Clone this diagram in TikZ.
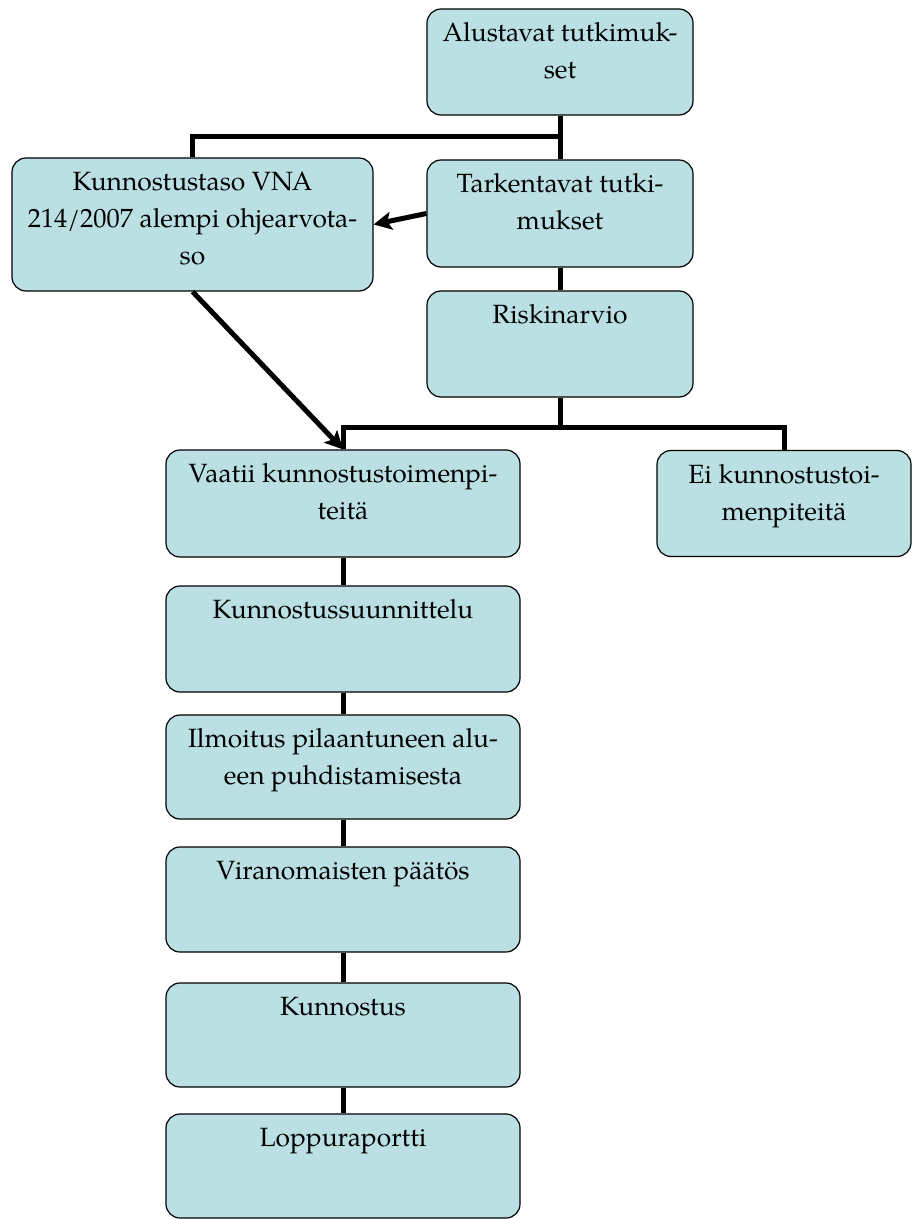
\documentclass[tikz,border=0pt]{standalone}
\usepackage{fontspec}
\setmainfont{texgyrepagella-regular.otf}
\usetikzlibrary{arrows.meta}
\definecolor{boxfill}{RGB}{186,224,227}
\tikzset{
	stage/.style={draw,fill=boxfill,rounded corners=7pt,line width=0.6pt,inner sep=0pt},
	link/.style={line width=2.5pt},
	flow/.style={line width=2.5pt,-{Stealth[length=9pt,width=9pt,inset=2pt]}}
}
\newcommand{\stagetext}[3]{\parbox[t][#2][t]{#1}{\centering\fontsize{13.2pt}{18.5pt}\selectfont\vspace*{3.5pt}\strut #3}}
\begin{document}
\begin{tikzpicture}[x=0.5pt,y=-0.5pt]
		\useasboundingbox (0,0) rectangle (912,1219);
		\node[stage] (alu) at (560,62) {\stagetext{133pt}{53pt}{Alustavat tutkimuk-\\set}};
		\node[stage] (kun) at (192.5,224.5) {\stagetext{180.5pt}{66.5pt}{Kunnostustaso VNA\\214/2007 alempi ohjearvota-\\so}};
		\node[stage] (tar) at (560,213.5) {\stagetext{133pt}{53.5pt}{Tarkentavat tutki-\\mukset}};
		\node[stage] (ris) at (560,344) {\stagetext{133pt}{53pt}{Riskinarvio}};
		\node[stage] (vaa) at (343,503.5) {\stagetext{177pt}{53.5pt}{Vaatii kunnostustoimenpi-\\teitä}};
		\node[stage] (ei) at (784,503.5) {\stagetext{127pt}{53pt}{Ei kunnostustoi-\\menpiteitä}};
		\node[stage] (kss) at (343,639) {\stagetext{177pt}{53pt}{Kunnostussuunnittelu}};
		\node[stage] (ilm) at (343,767) {\stagetext{177pt}{52pt}{Ilmoitus pilaantuneen alu-\\een puhdistamisesta}};
		\node[stage] (vir) at (343,899.5) {\stagetext{177pt}{52.5pt}{Viranomaisten päätös}};
		\node[stage] (knt) at (343,1035) {\stagetext{177pt}{52pt}{Kunnostus}};
		\node[stage] (lop) at (343,1166) {\stagetext{177pt}{52pt}{Loppuraportti}};
		\coordinate (fork1) at (alu.south |- 0,137);
		\coordinate (fork2) at (ris.south |- 0,427);
		\draw[link] (alu.south) -- (tar.north);
		\draw[link] (fork1) -| (kun.north);
		\draw[flow] (tar.west) -- (kun.east);
		\draw[link] (tar.south) -- (ris.north);
		\draw[link] (ris.south) -- (fork2);
		\draw[link] (vaa.north) |- (fork2) -| (ei.north);
		\draw[flow] (kun.south) -- (vaa.north);
		\foreach \a/\b in {vaa/kss,kss/ilm,ilm/vir,vir/knt,knt/lop}
			\draw[link] (\a.south) -- (\b.north);
	\end{tikzpicture}
\end{document}
